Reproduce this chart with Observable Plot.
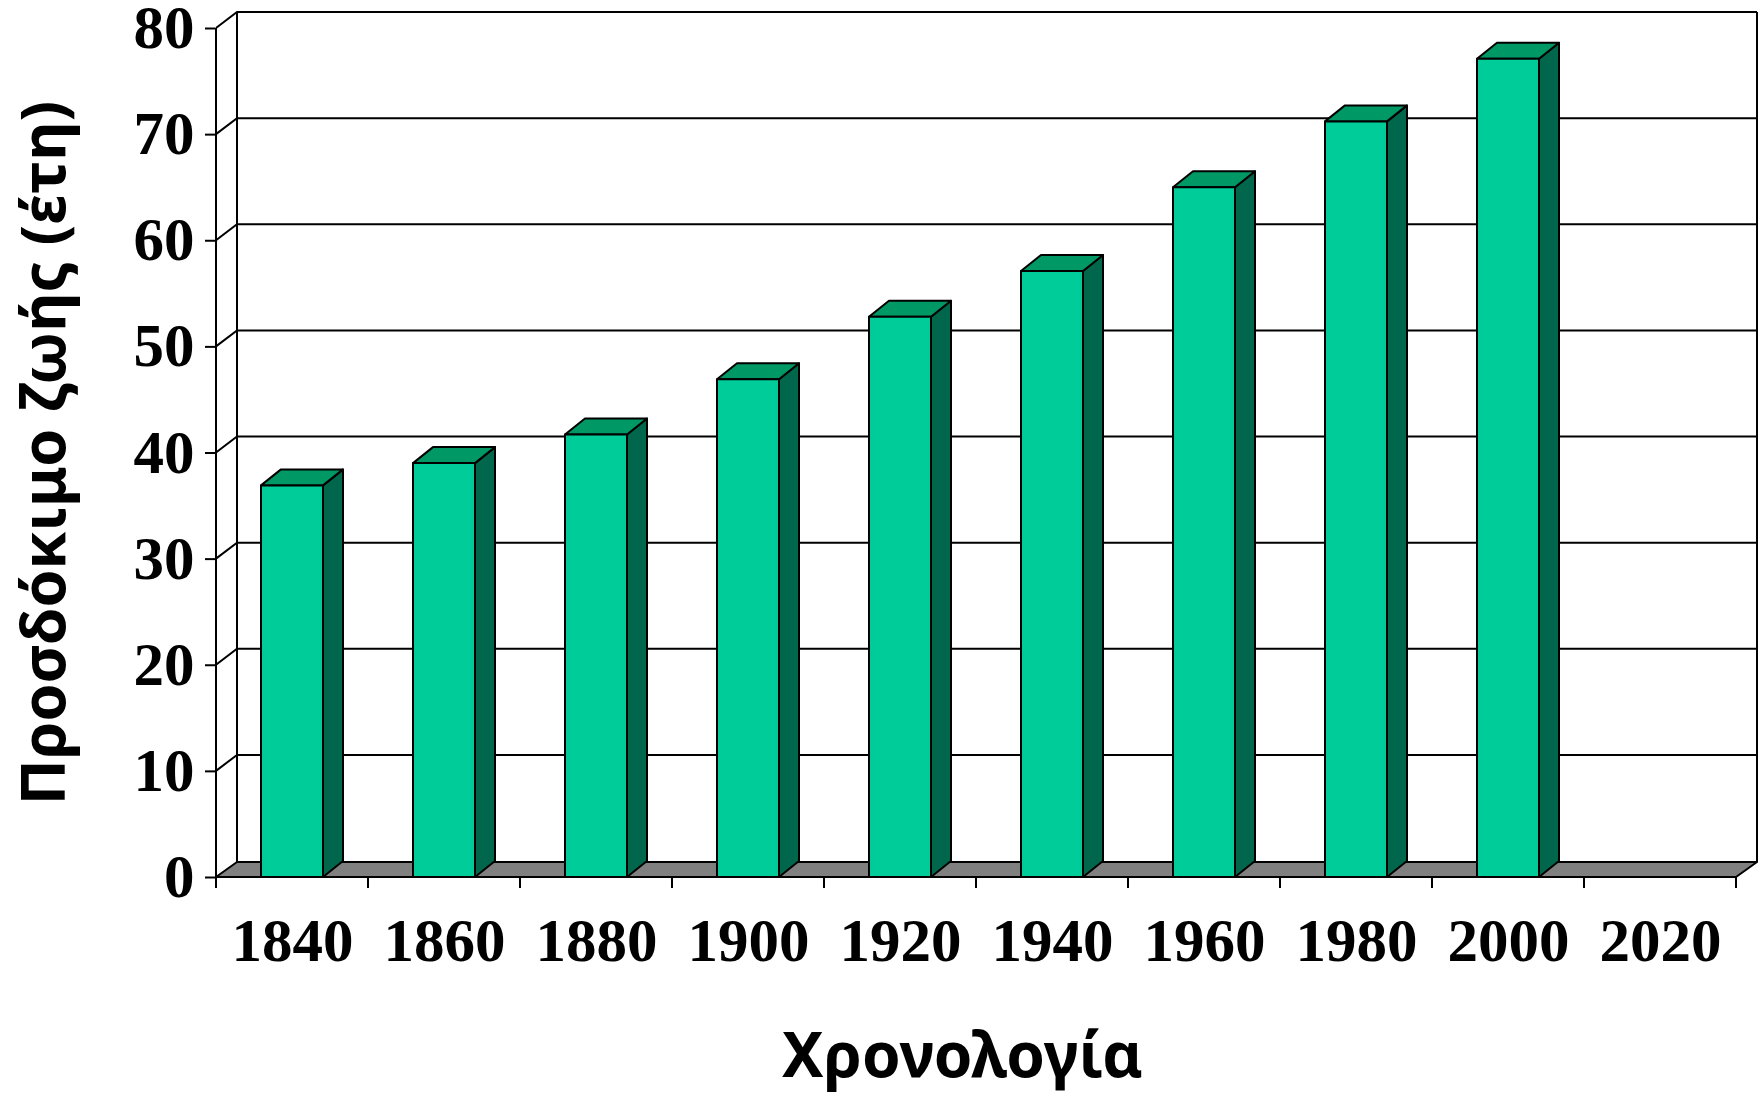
<!DOCTYPE html>
<html>
<head>
<meta charset="utf-8">
<script src="https://cdn.jsdelivr.net/npm/d3@7"></script>
<script src="https://cdn.jsdelivr.net/npm/@observablehq/plot@0.6"></script>
<style>
  html, body { margin: 0; padding: 0; background: #ffffff; }
  #chart { width: 1764px; height: 1094px; }
</style>
</head>
<body>
<div id="chart"></div>
<script>
// ---- data ----
const years = ["1840", "1860", "1880", "1900", "1920", "1940", "1960", "1980", "2000", "2020"];
const lifeExpectancy = [36.9, 39.0, 41.7, 46.9, 52.8, 57.1, 65.0, 71.2, 77.1, null];
const yTicks = [0, 10, 20, 30, 40, 50, 60, 70, 80];
const yLabel = "Προσδόκιμο ζωής (έτη)";
const xLabel = "Χρονολογία";

const data = years.map((year, i) => ({year, value: lifeExpectancy[i]}))
  .filter(d => d.value != null);

// ---- style ----
const FRONT = "#00CC99", TOP = "#009966", SIDE = "#00664C", FLOOR = "#808080";
const WALL_DX = 21, WALL_DY = 16, FLOOR_DY = 15;
const BAR_DX = 20, BAR_DY = 16;
const BAR_INSET = 45;
const LINE_W = 2;

function bandwidth(x) {
  return x.bandwidth ? x.bandwidth() : (x(years[1]) - x(years[0]));
}

// 3D frame: back wall, gridlines, floor, front axis line, category ticks
function frame3d(index, scales) {
  const x = scales.x, y = scales.y;
  const bw = bandwidth(x);
  const x0 = x(years[0]), x1 = x(years[years.length - 1]) + bw;
  const y0 = y(0), yTop = y(yTicks[yTicks.length - 1]);
  const g = d3.create("svg:g").attr("stroke", "black").attr("stroke-width", LINE_W).attr("fill", "none");
  g.append("path").attr("d",
    `M${x0 + WALL_DX},${y0 - FLOOR_DY}L${x0 + WALL_DX},${yTop - WALL_DY}` +
    `M${x1 + WALL_DX},${yTop - WALL_DY}L${x1 + WALL_DX},${y0 - FLOOR_DY}`);
  for (const t of yTicks) {
    if (t === 0) continue;
    const yy = y(t);
    g.append("path").attr("d",
      `M${x0},${yy}L${x0 + WALL_DX},${yy - WALL_DY}L${x1 + WALL_DX},${yy - WALL_DY}`);
  }
  g.append("path")
    .attr("fill", FLOOR)
    .attr("stroke-linejoin", "round")
    .attr("d", `M${x0},${y0}L${x1},${y0}L${x1 + WALL_DX},${y0 - FLOOR_DY}L${x0 + WALL_DX},${y0 - FLOOR_DY}Z`);
  g.append("path").attr("d", `M${x0},${y0}L${x0},${yTop}`);
  const bounds = years.map(v => x(v)).concat([x1]);
  for (const bx of bounds) {
    g.append("path").attr("d", `M${bx},${y0}L${bx},${y0 + 11}`);
  }
  return g.node();
}

// 3D bars: side, top and front face for each value
function bars3d(index, scales) {
  const x = scales.x, y = scales.y;
  const bw = bandwidth(x);
  const yb = y(0);
  const g = d3.create("svg:g").attr("stroke", "black").attr("stroke-width", LINE_W).attr("stroke-linejoin", "round");
  for (const d of data) {
    const xl = x(d.year) + BAR_INSET, xr = x(d.year) + bw - BAR_INSET, yv = y(d.value);
    g.append("path").attr("fill", SIDE)
      .attr("d", `M${xr},${yb}L${xr + BAR_DX},${yb - BAR_DY}L${xr + BAR_DX},${yv - BAR_DY}L${xr},${yv}Z`);
    g.append("path").attr("fill", TOP)
      .attr("d", `M${xl},${yv}L${xl + BAR_DX},${yv - BAR_DY}L${xr + BAR_DX},${yv - BAR_DY}L${xr},${yv}Z`);
    g.append("rect").attr("fill", FRONT)
      .attr("x", xl).attr("y", yv).attr("width", xr - xl).attr("height", yb - yv);
  }
  return g.node();
}

const chart = Plot.plot({
  width: 1764,
  height: 1094,
  marginLeft: 215,
  marginRight: 27,
  marginTop: 28,
  marginBottom: 217,
  style: {background: "#ffffff", color: "#000000", overflow: "visible"},
  x: {type: "band", domain: years, padding: 0, label: null},
  y: {domain: [0, 80], label: null},
  marks: [
    frame3d,
    bars3d,
    Plot.axisY({
      ticks: yTicks, tickSize: 10, tickPadding: 11, strokeWidth: LINE_W,
      fontSize: 61, fontFamily: "Liberation Serif", fontWeight: "bold", label: null
    }),
    Plot.axisX({
      tickSize: 0, tickPadding: 40,
      fontSize: 61, fontFamily: "Liberation Serif", fontWeight: "bold", label: null
    }),
    Plot.text([yLabel], {
      frameAnchor: "left", textAnchor: "middle", rotate: -90, dx: -170, dy: 0,
      fontSize: 61, fontFamily: "Noto Sans", fontWeight: "bold", fill: "black"
    }),
    Plot.text([xLabel], {
      frameAnchor: "bottom", textAnchor: "middle", dx: -14, dy: 199,
      fontSize: 62, fontFamily: "Noto Sans", fontWeight: "bold", fill: "black"
    })
  ]
});

document.getElementById("chart").appendChild(chart);
</script>
</body>
</html>
